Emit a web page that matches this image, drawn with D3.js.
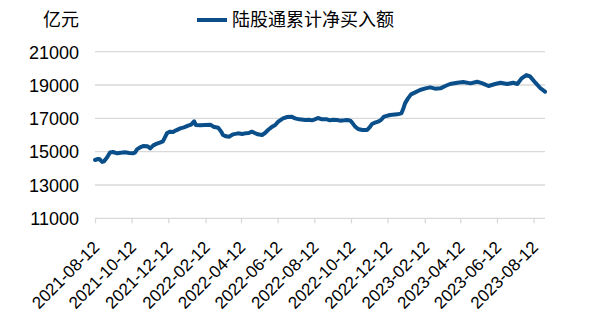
<!DOCTYPE html>
<html>
<head>
<meta charset="utf-8">
<script src="https://cdn.jsdelivr.net/npm/d3@7"></script>
<style>
  body { margin: 0; background: #fff; }
  svg { display: block; }
  .tick-label { font-family: "Liberation Sans", Arial, sans-serif; fill: #000; }
  .cjk { font-family: "Noto Sans CJK SC", sans-serif; fill: #000; }
</style>
</head>
<body>
<div id="chart"></div>
<script>
// Define svg width and height
var svgWidth = 589;
var svgHeight = 317;

// plot area edges
var plot = { left: 95, right: 545, top: 51.7, bottom: 218.3 };

// series: dates and cumulative net buying (亿元)
var dates = [
  "2021-08-12", "2021-08-17", "2021-08-20", "2021-08-24", "2021-08-27", "2021-09-01",
  "2021-09-06", "2021-09-11", "2021-09-18", "2021-09-24", "2021-10-01", "2021-10-08",
  "2021-10-14", "2021-10-18", "2021-10-21", "2021-10-26", "2021-11-01", "2021-11-07",
  "2021-11-12", "2021-11-17", "2021-11-23", "2021-11-28", "2021-12-03", "2021-12-07",
  "2021-12-10", "2021-12-15", "2021-12-20", "2021-12-25", "2022-01-01", "2022-01-07",
  "2022-01-14", "2022-01-19", "2022-01-24", "2022-01-27", "2022-02-03", "2022-02-11",
  "2022-02-20", "2022-02-25", "2022-03-05", "2022-03-10", "2022-03-13", "2022-03-18",
  "2022-03-23", "2022-03-30", "2022-04-07", "2022-04-14", "2022-04-19", "2022-04-25",
  "2022-04-30", "2022-05-05", "2022-05-10", "2022-05-17", "2022-05-22", "2022-05-27",
  "2022-06-03", "2022-06-08", "2022-06-13", "2022-06-21", "2022-06-28", "2022-07-05",
  "2022-07-11", "2022-07-18", "2022-07-28", "2022-08-03", "2022-08-08", "2022-08-13",
  "2022-08-18", "2022-08-25", "2022-09-02", "2022-09-07", "2022-09-12", "2022-09-19",
  "2022-09-24", "2022-10-01", "2022-10-06", "2022-10-11", "2022-10-14", "2022-10-19",
  "2022-10-24", "2022-10-31", "2022-11-08", "2022-11-13", "2022-11-16", "2022-11-21",
  "2022-11-26", "2022-12-01", "2022-12-06", "2022-12-16", "2022-12-28", "2023-01-04",
  "2023-01-07", "2023-01-10", "2023-01-15", "2023-01-20", "2023-01-27", "2023-02-04",
  "2023-02-13", "2023-02-21", "2023-03-01", "2023-03-10", "2023-03-18", "2023-03-26",
  "2023-04-07", "2023-04-17", "2023-04-29", "2023-05-10", "2023-05-19", "2023-05-29",
  "2023-06-09", "2023-06-18", "2023-06-29", "2023-07-09", "2023-07-16", "2023-07-23",
  "2023-07-31", "2023-08-06", "2023-08-15", "2023-08-23", "2023-08-31"
];

var netBuy = [
  14500, 14560, 14540, 14380, 14420, 14650,
  14950, 14980, 14900, 14940, 14960, 14920,
  14900, 14960, 15140, 15260, 15340, 15330,
  15200, 15380, 15480, 15540, 15620, 15900,
  16120, 16200, 16180, 16280, 16400, 16460,
  16560, 16620, 16820, 16600, 16580, 16600,
  16620, 16500, 16440, 16200, 16000, 15920,
  15900, 16040, 16100, 16060, 16100, 16120,
  16200, 16120, 16040, 16000, 16120, 16300,
  16500, 16600, 16800, 17000, 17080, 17100,
  17000, 16940, 16900, 16920, 16880, 16940,
  17020, 16940, 16940, 16880, 16920, 16900,
  16860, 16880, 16900, 16860, 16740, 16500,
  16360, 16300, 16300, 16500, 16660, 16740,
  16800, 16900, 17100, 17200, 17240, 17300,
  17560, 17900, 18200, 18440, 18560, 18700,
  18800, 18860, 18780, 18800, 18940, 19060,
  19140, 19180, 19100, 19200, 19100, 18940,
  19060, 19140, 19060, 19140, 19060, 19400,
  19600, 19520, 19140, 18820, 18600
];

// axis ticks
var xTicks = [
  "2021-08-12", "2021-10-12", "2021-12-12", "2022-02-12", "2022-04-12", "2022-06-12",
  "2022-08-12", "2022-10-12", "2022-12-12", "2023-02-12", "2023-04-12", "2023-06-12",
  "2023-08-12"
];
var yTicks = [11000, 13000, 15000, 17000, 19000, 21000];

var unitLabel = "亿元";
var seriesName = "陆股通累计净买入额";

var parseDate = d3.timeParse("%Y-%m-%d");
var formatDate = d3.timeFormat("%Y-%m-%d");

var data = dates.map(function(d, i) {
  return { date: parseDate(d), value: netBuy[i] };
});

var svg = d3.select("#chart")
  .append("svg")
  .attr("width", svgWidth)
  .attr("height", svgHeight);

// scales
var xScale = d3.scaleTime()
  .domain([parseDate("2021-08-12"), parseDate("2023-08-31")])
  .range([plot.left, plot.right]);

var yScale = d3.scaleLinear()
  .domain([11000, 21000])
  .range([plot.bottom, plot.top]);

// horizontal gridlines
svg.append("g")
  .selectAll("line")
  .data(yTicks.slice(1))
  .enter()
  .append("line")
  .attr("x1", plot.left)
  .attr("x2", plot.right)
  .attr("y1", d => yScale(d))
  .attr("y2", d => yScale(d))
  .attr("stroke", "#d9d9d9")
  .attr("stroke-width", 1.3);

// y axis (labels only)
var leftAxis = d3.axisLeft(yScale)
  .tickValues(yTicks)
  .tickFormat(d3.format("d"))
  .tickSize(0)
  .tickPadding(0);

var yAxis = svg.append("g")
  .attr("transform", `translate(${plot.left - 16}, 0)`)
  .call(leftAxis);
yAxis.select(".domain").remove();
yAxis.selectAll("text")
  .attr("class", "tick-label")
  .style("font-size", "18px")
  .attr("dy", "0.35em");

// x axis
var bottomAxis = d3.axisBottom(xScale)
  .tickValues(xTicks.map(parseDate))
  .tickFormat(formatDate)
  .tickSize(5)
  .tickSizeOuter(0);

var xAxis = svg.append("g")
  .attr("transform", `translate(0, ${plot.bottom})`)
  .call(bottomAxis);
xAxis.select(".domain")
  .attr("stroke", "#d9d9d9")
  .attr("stroke-width", 1.3)
  .attr("d", `M${plot.left},0H${plot.right}`);
xAxis.selectAll(".tick line")
  .attr("stroke", "#d9d9d9")
  .attr("stroke-width", 1.3);
xAxis.selectAll("text")
  .attr("class", "tick-label")
  .style("font-size", "17px")
  .attr("text-anchor", "end")
  .attr("dy", null)
  .attr("y", 0)
  .attr("transform", "translate(5, 30) rotate(-45)");

// line
var line = d3.line()
  .x(d => xScale(d.date))
  .y(d => yScale(d.value))
  .curve(d3.curveLinear);

svg.append("path")
  .datum(data)
  .attr("fill", "none")
  .attr("stroke", "#0a4f8a")
  .attr("stroke-width", 4)
  .attr("stroke-linejoin", "round")
  .attr("stroke-linecap", "round")
  .attr("d", line);

// unit label
svg.append("text")
  .attr("class", "cjk")
  .attr("x", 79)
  .attr("y", 20)
  .attr("dy", "0.35em")
  .attr("text-anchor", "end")
  .style("font-size", "18px")
  .text(unitLabel);

// legend
svg.append("line")
  .attr("x1", 197)
  .attr("x2", 227)
  .attr("y1", 20)
  .attr("y2", 20)
  .attr("stroke", "#0a4f8a")
  .attr("stroke-width", 4);

svg.append("text")
  .attr("class", "cjk")
  .attr("x", 232)
  .attr("y", 20)
  .attr("dy", "0.35em")
  .style("font-size", "18px")
  .text(seriesName);
</script>
</body>
</html>
